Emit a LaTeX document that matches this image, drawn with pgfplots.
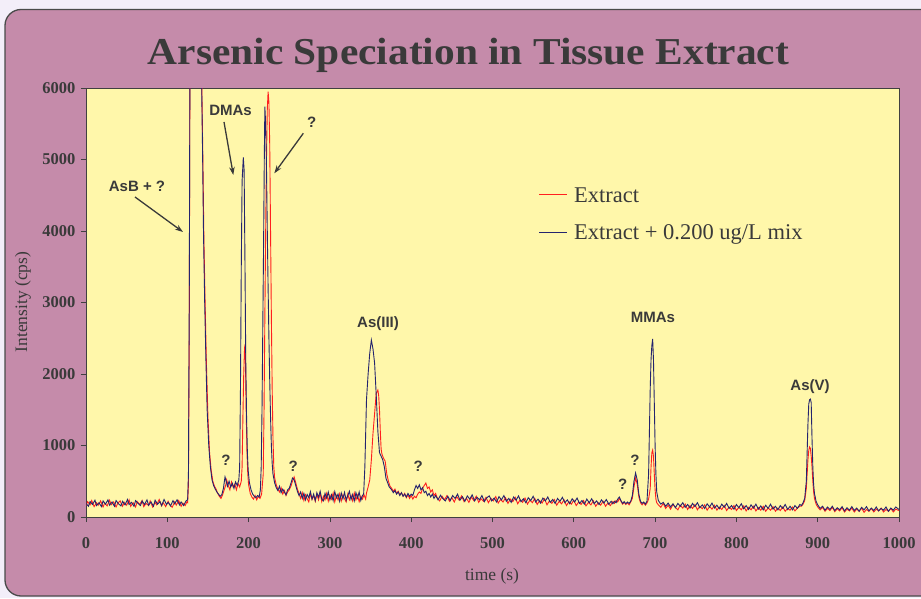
\documentclass[border=0pt]{standalone}
\usepackage{pgfplots}
\pgfplotsset{compat=1.18}
\usepackage{fontspec}
\setmainfont{Liberation Serif}
\newfontfamily\annfont{Liberation Sans}
\usetikzlibrary{arrows.meta}
\definecolor{outerbg}{HTML}{F3EEF9}
\definecolor{mauve}{HTML}{C58BAA}
\definecolor{framegray}{HTML}{4A4A4A}
\definecolor{plotyellow}{HTML}{FFF7AA}
\definecolor{axisgray}{HTML}{404040}
\definecolor{txtgray}{HTML}{3A3A3A}
\definecolor{exred}{HTML}{FF1F1F}
\definecolor{mixblue}{HTML}{24246E}
\begin{document}
\begin{tikzpicture}[x=1pt,y=1pt]
\useasboundingbox (0,0) rectangle (921,598);
\clip (0,0) rectangle (921,598);
\fill[outerbg] (0,0) rectangle (921,598);
\draw[fill=mauve, draw=framegray, line width=1.3pt, rounded corners=16pt] (5,2) rectangle (960,588.5);
\node[anchor=base, text=txtgray, font=\fontsize{38}{40}\selectfont\bfseries, xscale=1.09, transform shape] at (468.5,533) {Arsenic Speciation in Tissue Extract};
\begin{axis}[
  at={(86pt,81pt)}, anchor=south west,
  width=813pt, height=429pt, scale only axis,
  xmin=0, xmax=1000, ymin=0, ymax=6000,
  xtick={0,100,...,1000}, ytick={0,1000,...,6000},
  tick align=outside, xtick pos=bottom, ytick pos=left,
  major tick length=5pt,
  axis background/.style={fill=plotyellow},
  axis line style={draw=axisgray, line width=0.8pt},
  tick style={draw=axisgray, line width=0.8pt},
  ticklabel style={font=\fontsize{16.5}{17}\selectfont\bfseries, text=txtgray},
  /pgf/number format/assume math mode=true,
  /pgf/number format/1000 sep={},
  xticklabel style={yshift=-12pt},
  yticklabel style={xshift=-2pt},
  clip=true,
]
\addplot[exred, line width=0.9pt] coordinates {
(0,160)(2,215)(5,170)(7,230)(10,145)(13,200)(15,165)(18,225)(21,140)(23,195)(26,155)(29,235)(31,170)(34,210)(37,140)(39,190)(42,225)(45,150)(47,205)(50,165)(53,240)(55,150)(58,200)(61,140)(63,215)(66,175)(69,230)(71,145)(74,190)(77,160)(79,225)(82,140)(85,205)(87,170)(90,245)(93,155)(95,200)(98,145)(101,220)(103,175)(106,135)(109,210)(111,165)(114,230)(117,150)(119,195)(122,160)(124,210)(125,200)(126,450)(127,2600)(128,7000)
(141.5,7000)(142.5,6000)(144,4800)(145,3900)(146.5,3000)(148,2200)(150,1400)(152,900)(154,650)(156,500)(158,430)(160,390)(162,330)(164,290)(166,260)(168,310)(170,380)(172,450)(173,520)(175,440)(177,380)(179,490)(181,420)(183,460)(185,380)(187,470)(189,420)(191,500)(192,700)(193,1400)(194,2000)(195,2360)(196,2300)(197,1500)(198,900)(199,600)(200,450)(202,330)(204,280)(206,250)(208,300)(210,240)(212,290)(214,260)(216,320)(218,600)(219,1500)(220,2800)(221,4000)(222,5000)(223,5700)(224,5950)(225,5800)(226,5200)(227,4000)(228,2800)(229,1800)(230,1100)(231,700)(232,550)(234,450)(236,390)(238,350)(240,410)(242,320)(244,370)(246,300)(248,350)(250,380)(252,430)(254,500)(256,560)(258,480)(260,390)
(262,330)(264,260)(266,340)(268,230)(270,310)(272,255)(274,210)(276,330)(278,245)(280,300)(282,220)(284,320)(286,240)(288,335)(290,215)(292,290)(294,240)(296,330)(298,220)(300,305)(302,250)(304,335)(306,210)(308,300)(310,240)(312,325)(314,225)(316,310)(318,255)(320,210)(322,320)(324,240)(326,300)(328,225)(330,335)(332,240)(334,305)(336,215)(338,290)(340,250)(342,310)(344,250)
(345,335)(347,420)(349,517)(351,800)(353,1170)(355,1450)(357,1730)(359,1776)(360,1700)(361,1500)(362,1200)(363,950)(364,880)(366,820)(368,780)(370,600)(372,500)(374,430)(376,400)(378,360)(380,390)(382,330)(384,360)(386,310)(388,340)(390,290)(392,330)(394,270)(396,310)(398,260)(400,300)(402,250)(404,290)(406,270)(408,320)(410,350)(412,330)(414,400)(416,440)(418,475)(420,400)(422,420)(424,350)(426,380)(428,300)(430,330)
(432,270)(435,225)(438,290)(441,240)(444,300)(447,220)(450,270)(453,210)(456,285)(459,235)(462,295)(465,215)(468,260)(471,205)(474,280)(477,230)(480,290)(483,205)(486,255)(489,220)(492,275)(495,200)(498,260)(501,225)(504,285)(507,195)(510,245)(513,210)(516,270)(519,190)(522,250)(525,215)(528,275)(531,185)(534,240)(537,205)(540,265)(543,180)(546,235)(549,200)(552,260)(555,175)(558,230)(561,195)(564,255)(567,170)(570,225)(573,190)(576,245)(579,165)(582,220)(585,185)(588,240)(591,160)(594,215)(597,180)(600,235)(603,160)(606,210)(609,175)(612,230)(615,155)(618,205)(621,170)(624,225)(627,150)(630,200)(633,165)(636,220)(639,150)(642,195)(645,160)(648,215)
(650,190)(652,230)(654,210)(656,260)(658,220)(660,180)(662,205)(664,175)(666,200)(668,170)(670,210)(672,260)(674,420)(676,545)(678,460)(680,280)(682,200)(684,170)(686,200)(688,165)(690,195)(692,250)(694,400)(695,700)(696,900)(697,937)(698,850)(699,600)(700,380)(701,250)(702,200)
(704,170)(707,135)(710,190)(713,120)(716,165)(719,110)(722,175)(725,135)(728,100)(731,165)(734,125)(737,180)(740,105)(743,160)(746,120)(749,175)(752,100)(755,150)(758,115)(761,170)(764,95)(767,145)(770,110)(773,165)(776,95)(779,140)(782,105)(785,160)(788,90)(791,140)(794,105)(797,160)(800,90)(803,135)(806,100)(809,155)(812,85)(815,135)(818,100)(821,150)(824,85)(827,130)(830,95)(833,150)(836,80)(839,125)(842,95)(845,145)(848,80)(851,125)(854,90)(857,140)(860,80)(863,120)(866,95)(869,140)(872,85)(875,125)(878,150)(880,150)
(882,180)(884,230)(886,400)(887,600)(888,800)(889,930)(890,980)(891,960)(892,850)(893,700)(894,500)(895,350)(896,260)(898,180)
(900,140)(903,100)(906,135)(909,80)(912,120)(915,90)(918,135)(921,75)(924,115)(927,85)(930,130)(933,70)(936,110)(939,85)(942,125)(945,70)(948,110)(951,80)(954,125)(957,65)(960,105)(963,80)(966,120)(969,70)(972,110)(975,85)(978,125)(981,70)(984,105)(987,80)(990,120)(993,70)(996,110)(1000,90)
};
\addplot[mixblue, line width=0.9pt] coordinates {
(0,190)(3,150)(5,215)(8,175)(11,235)(13,160)(16,200)(19,145)(21,225)(24,180)(27,240)(29,165)(32,210)(35,150)(37,230)(40,185)(43,155)(45,220)(48,170)(51,245)(53,175)(56,205)(59,150)(61,230)(64,190)(67,160)(69,225)(72,175)(75,240)(77,165)(80,210)(83,150)(85,235)(88,180)(91,215)(93,160)(96,245)(99,175)(101,205)(104,155)(107,230)(109,185)(112,240)(115,170)(117,210)(120,160)(123,225)(125,240)(126,600)(127,3000)(128,7000)
(141,7000)(142.3,6000)(143.5,5000)(144.5,4000)(146,3000)(147.5,2200)(149,1500)(151,1000)(153,700)(155,520)(157,440)(159,390)(161,350)(163,320)(165,290)(167,310)(169,400)(171,560)(172,520)(174,430)(176,500)(178,420)(180,470)(182,400)(184,490)(186,440)(188,520)(189,700)(190,1800)(191,3500)(192,4700)(193.5,5030)(194.5,4850)(195.5,3600)(196.5,2200)(197.5,1400)(198.5,900)(199.5,650)(201,480)(203,380)(205,320)(207,290)(209,270)(211,300)(213,280)(214.5,380)(215.5,700)(216.5,1500)(217.5,2700)(218.5,3900)(219.3,5000)(220,5740)(221,5500)(222,4900)(223,4000)(224,3200)(225,2500)(226,1900)(227,1400)(228,1000)(229,750)(230,600)(232,480)(234,410)(236,370)(238,430)(240,340)(242,390)(244,350)(246,310)(248,380)(250,400)(252,470)(254,545)(256,520)(258,440)(260,360)
(262,300)(264,350)(266,260)(268,330)(270,240)(272,315)(274,270)(276,355)(278,250)(280,320)(282,230)(284,340)(286,275)(288,360)(290,250)(292,225)(294,330)(296,265)(298,350)(300,240)(302,310)(304,230)(306,355)(308,270)(310,320)(312,220)(314,335)(316,255)(318,345)(320,235)(322,300)(324,360)(326,245)(328,315)(330,225)(332,340)(334,265)(336,350)(338,230)(340,300)
(341.5,320)(343,700)(345,1640)(347,2000)(349,2290)(351,2475)(353,2350)(355,2150)(357,1700)(359,1200)(361,900)(363,850)(365,800)(367,700)(369,540)(371,480)(373,420)(376,380)(378,340)(380,370)(382,320)(384,350)(386,300)(388,340)(390,290)(392,320)(394,280)(396,330)(398,290)(400,320)(402,300)(404,380)(406,440)(408,400)(410,450)(412,380)(414,410)(416,340)(418,360)(420,300)(422,330)(424,280)(426,320)(428,260)
(430,300)(433,240)(436,305)(439,255)(442,225)(445,290)(448,230)(451,300)(454,260)(457,320)(460,235)(463,285)(466,220)(469,295)(472,250)(475,310)(478,225)(481,275)(484,240)(487,300)(490,215)(493,270)(496,295)(499,225)(502,265)(505,210)(508,285)(511,240)(514,300)(517,220)(520,260)(523,205)(526,280)(529,235)(532,295)(535,215)(538,255)(541,200)(544,270)(547,230)(550,290)(553,210)(556,250)(559,195)(562,265)(565,225)(568,280)(571,205)(574,245)(577,190)(580,260)(583,220)(586,275)(589,200)(592,240)(595,185)(598,255)(601,210)(604,265)(607,190)(610,230)(613,180)(616,250)(619,200)(622,255)(625,185)(628,225)(631,175)(634,240)(637,195)(640,245)(643,180)(646,220)(648,185)
(650,220)(652,200)(654,250)(656,280)(658,230)(660,190)(662,215)(664,185)(666,210)(668,190)(670,220)(672,300)(674,500)(676,615)(678,520)(680,320)(682,220)(684,190)(686,210)(688,180)(690,220)(692,600)(693,1200)(694,1800)(695,2200)(696,2400)(697,2490)(698,2200)(699,1600)(700,1000)(701,600)(702,350)
(704,230)(707,180)(710,205)(713,150)(716,195)(719,140)(722,185)(725,130)(728,190)(731,150)(734,200)(737,135)(740,175)(743,125)(746,190)(749,145)(752,200)(755,130)(758,170)(761,120)(764,185)(767,140)(770,195)(773,125)(776,165)(779,115)(782,180)(785,135)(788,190)(791,120)(794,160)(797,110)(800,175)(803,130)(806,185)(809,115)(812,160)(815,105)(818,170)(821,125)(824,180)(827,110)(830,155)(833,100)(836,165)(839,120)(842,180)(845,110)(848,150)(851,100)(854,160)(857,120)(860,175)(863,105)(866,150)(869,100)(872,160)(875,120)(878,175)(880,160)
(882,200)(884,260)(886,500)(887,900)(888,1300)(889,1580)(890,1640)(891,1650)(892,1600)(893,1100)(894,700)(895,450)(896,330)(898,220)
(900,170)(903,120)(906,150)(909,95)(912,140)(915,105)(918,150)(921,90)(924,130)(927,100)(930,145)(933,85)(936,130)(939,95)(942,145)(945,90)(948,125)(951,80)(954,135)(957,100)(960,145)(963,85)(966,125)(969,90)(972,140)(975,85)(978,120)(981,95)(984,140)(987,80)(990,125)(993,95)(996,140)(1000,105)
};
\end{axis}
% axis titles
\node[rotate=90, text=txtgray, font=\fontsize{17.5}{18}\selectfont] at (23,296) {Intensity (cps)};
\node[text=txtgray, font=\fontsize{17.5}{18}\selectfont] at (492,22) {time (s)};
% legend
\draw[exred, line width=1pt] (539,403.7) -- (567,403.7);
\node[anchor=west, text=txtgray, font=\fontsize{22.5}{24}\selectfont, inner sep=0pt] at (574,402.5) {Extract};
\draw[mixblue, line width=1pt] (539,365.3) -- (567,365.3);
\node[anchor=west, text=txtgray, font=\fontsize{22.5}{24}\selectfont, inner sep=0pt] at (574,364) {Extract + 0.200 ug/L mix};
% annotations
\begin{scope}[every node/.style={text=txtgray, font=\annfont\fontsize{15}{16}\selectfont\bfseries, inner sep=0pt}]
\node at (137,412) {AsB + ?};
\node at (230.5,488) {DMAs};
\node at (311.7,475.3) {?};
\node at (378,274) {As(III)};
\node at (226,138) {?};
\node at (293.3,131.3) {?};
\node at (418.3,131.3) {?};
\node at (635,138) {?};
\node at (622.7,113.7) {?};
\node at (653,281) {MMAs};
\node at (810,211) {As(V)};
\end{scope}
\begin{scope}[draw=txtgray, line width=1.3pt, -{Stealth[length=8pt,width=5.5pt]}]
\draw (135,401) -- (183,366);
\draw (224,476) -- (233.3,423);
\draw (303.3,464.7) -- (274.3,424.7);
\end{scope}
\end{tikzpicture}
\end{document}
